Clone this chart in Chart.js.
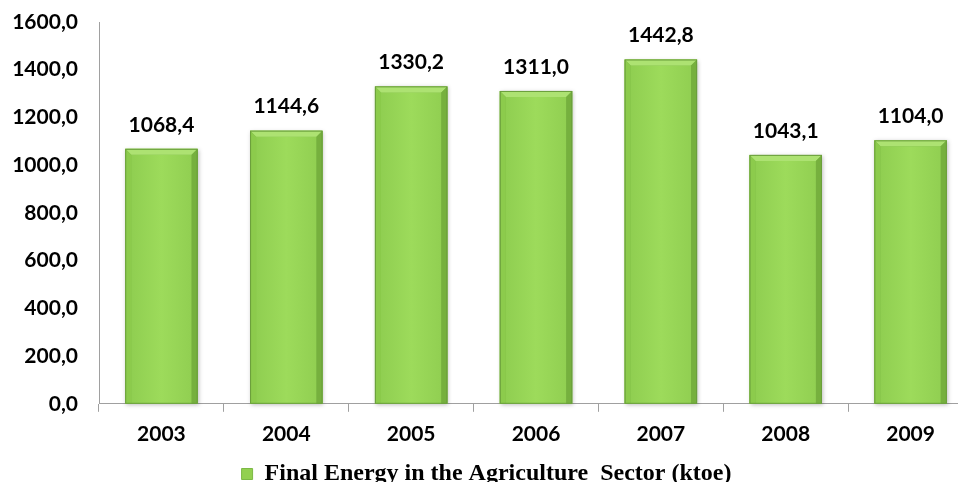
<!DOCTYPE html>
<html>
<head>
<meta charset="utf-8">
<script src="https://cdn.jsdelivr.net/npm/chart.js@4.4.1/dist/chart.umd.min.js"></script>
<style>
  html, body { margin: 0; padding: 0; background: #fff; overflow: hidden; }
  #wrap { width: 980px; height: 496px; }
</style>
</head>
<body>
<div id="wrap"><canvas id="chart"></canvas></div>
<script>
const years = ['2003', '2004', '2005', '2006', '2007', '2008', '2009'];
const energy = [1068.4, 1144.6, 1330.2, 1311.0, 1442.8, 1043.1, 1104.0];
const seriesLabel = 'Final Energy in the Agriculture  Sector (ktoe)';

const tickFont = { family: 'Lato', size: 21, weight: 'bold' };

function fmt(v) {
    return v.toFixed(1).replace('.', ',');
}

// bevelled green bars, drawn over the plain bars
const bevelBars = {
    id: 'bevelBars',
    afterDatasetsDraw(chart) {
        const { ctx } = chart;
        chart.getDatasetMeta(0).data.forEach(bar => {
            const l = bar.x - bar.width / 2, r = bar.x + bar.width / 2;
            const t = bar.y, b = bar.base;
            const e = 6;
            ctx.save();
            ctx.shadowColor = 'rgba(0,0,0,0.25)';
            ctx.shadowBlur = 4;
            ctx.shadowOffsetX = 1;
            ctx.shadowOffsetY = 1;
            ctx.fillStyle = '#7cb946';
            ctx.fillRect(l, t, r - l, b - t);
            ctx.restore();
            ctx.save();
            const g = ctx.createLinearGradient(l, 0, r, 0);
            g.addColorStop(0, '#8dcc4f');
            g.addColorStop(0.5, '#9ddb5b');
            g.addColorStop(1, '#8fcd50');
            ctx.fillStyle = g;
            ctx.fillRect(l + e, t + e, r - l - 2 * e, b - t - e);
            // top bevel
            ctx.fillStyle = '#ade272';
            ctx.beginPath();
            ctx.moveTo(l, t); ctx.lineTo(r, t); ctx.lineTo(r - e, t + e); ctx.lineTo(l + e, t + e);
            ctx.closePath(); ctx.fill();
            // left bevel
            ctx.fillStyle = '#8ccb4c';
            ctx.beginPath();
            ctx.moveTo(l, t); ctx.lineTo(l + e, t + e); ctx.lineTo(l + e, b); ctx.lineTo(l, b);
            ctx.closePath(); ctx.fill();
            // right bevel
            ctx.fillStyle = '#76b03e';
            ctx.beginPath();
            ctx.moveTo(r, t); ctx.lineTo(r - e, t + e); ctx.lineTo(r - e, b); ctx.lineTo(r, b);
            ctx.closePath(); ctx.fill();
            ctx.strokeStyle = '#6a9e3c';
            ctx.lineWidth = 1;
            ctx.strokeRect(l + 0.5, t + 0.5, r - l - 1, b - t - 1);
            ctx.restore();
        });
    }
};

// value labels above the bars
const valueLabels = {
    id: 'valueLabels',
    afterDatasetsDraw(chart) {
        const { ctx } = chart;
        const meta = chart.getDatasetMeta(0);
        ctx.save();
        ctx.font = `bold ${tickFont.size}px ${tickFont.family}`;
        ctx.fillStyle = '#000';
        ctx.textAlign = 'center';
        ctx.textBaseline = 'middle';
        meta.data.forEach((bar, i) => {
            ctx.fillText(fmt(energy[i]), bar.x, bar.y - 24);
        });
        ctx.restore();
    }
};

new Chart(document.getElementById('chart'), {
    type: 'bar',
    data: {
        labels: years,
        datasets: [{
            label: seriesLabel,
            data: energy,
            backgroundColor: '#92d050',
            borderWidth: 0,
            categoryPercentage: 0.58,
            barPercentage: 1.0
        }]
    },
    options: {
        responsive: true,
        maintainAspectRatio: false,
        animation: false,
        layout: { padding: { top: 22, right: 7, left: 0, bottom: 0 } },
        plugins: {
            tooltip: { enabled: false },
            legend: {
                position: 'bottom',
                labels: {
                    color: '#000',
                    font: { family: 'Liberation Serif', size: 24, weight: 'bold' },
                    boxWidth: 11,
                    boxHeight: 11,
                    padding: 5,
                    generateLabels(chart) {
                        return [{
                            text: seriesLabel,
                            fillStyle: '#92d050',
                            strokeStyle: '#7cb946',
                            lineWidth: 1,
                            datasetIndex: 0
                        }];
                    }
                }
            }
        },
        scales: {
            x: {
                grid: { display: true, drawOnChartArea: false, drawTicks: true, tickLength: 8, offset: true, color: '#a0a0a0' },
                border: { color: '#a0a0a0', width: 1 },
                ticks: { color: '#000', font: tickFont, padding: 10 }
            },
            y: {
                min: 0,
                max: 1600,
                grid: { display: false, drawTicks: false },
                border: { color: '#a0a0a0', width: 1 },
                ticks: { stepSize: 200, color: '#000', font: tickFont, padding: 21, callback: v => fmt(v) },
                afterFit(scale) {
                    scale.width = 99;
                    scale.paddingTop = 0;
                    scale.paddingBottom = 0;
                }
            }
        }
    },
    plugins: [bevelBars, valueLabels]
});
</script>
</body>
</html>
